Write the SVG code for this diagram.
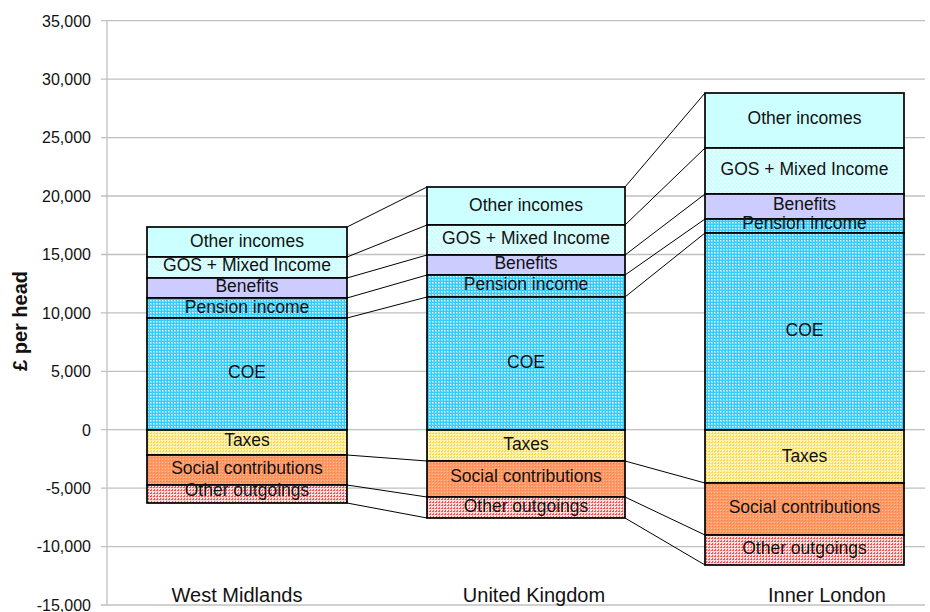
<svg xmlns="http://www.w3.org/2000/svg" width="930" height="612" viewBox="0 0 930 612">
<style>
.grid{stroke:#C0C0C0;stroke-width:1.3;fill:none}
.tick{font-family:"Liberation Sans",Arial,sans-serif;font-size:16px;fill:#111;text-anchor:end}
.cat{font-family:"Liberation Sans",Arial,sans-serif;font-size:20px;fill:#111;text-anchor:middle}
.seg{stroke:#000;stroke-width:1.7}
.lbl{font-family:"Liberation Sans",Arial,sans-serif;font-size:17.5px;fill:#111;text-anchor:middle}
.conn line{stroke:#000;stroke-width:1}
.ttl{font-family:"Liberation Sans",Arial,sans-serif;font-size:20px;font-weight:bold;fill:#111;text-anchor:middle}
</style>
<defs>
<pattern id="pGos" width="4" height="4" patternUnits="userSpaceOnUse">
<rect width="4" height="4" fill="#CCFFFF"/>
<rect x="0" y="0" width="1" height="1" fill="#FFFFFF"/>
<rect x="2" y="2" width="1" height="1" fill="#FFFFFF"/>
<rect x="1" y="1" width="1" height="1" fill="#E6FFFF"/>
</pattern>
<pattern id="pCoe" width="3" height="3" patternUnits="userSpaceOnUse">
<rect width="3" height="3" fill="#33CCFF"/>
<rect x="0" y="0" width="2" height="2" fill="#80DFFF"/>
<rect x="0" y="0" width="1" height="1" fill="#FFFFFF"/>
</pattern>
<pattern id="pTax" width="3" height="3" patternUnits="userSpaceOnUse">
<rect width="3" height="3" fill="#FFF2B0"/>
<rect x="0" y="0" width="2" height="2" fill="#FFD84A"/>
<rect x="0" y="0" width="1" height="1" fill="#FFFFE8"/>
</pattern>
<pattern id="pSoc" width="3" height="3" patternUnits="userSpaceOnUse">
<rect width="3" height="3" fill="#FF9966"/>
<rect x="0" y="0" width="1" height="1" fill="#FFC0A0"/>
<rect x="1" y="1" width="1" height="1" fill="#FF8040"/>
</pattern>
<pattern id="pOut" width="3" height="3" patternUnits="userSpaceOnUse">
<rect width="3" height="3" fill="#FFD8D8"/>
<rect x="0" y="0" width="2" height="2" fill="#FF5050"/>
<rect x="0" y="0" width="1" height="1" fill="#FFFFFF"/>
</pattern>
</defs>
<rect width="930" height="612" fill="#FFFFFF"/>
<g id="axes">
<line class="grid" x1="107" y1="20.7" x2="925" y2="20.7"/>
<line class="grid" x1="107" y1="79.1" x2="925" y2="79.1"/>
<line class="grid" x1="107" y1="137.6" x2="925" y2="137.6"/>
<line class="grid" x1="107" y1="196" x2="925" y2="196"/>
<line class="grid" x1="107" y1="254.5" x2="925" y2="254.5"/>
<line class="grid" x1="107" y1="312.9" x2="925" y2="312.9"/>
<line class="grid" x1="107" y1="371.3" x2="925" y2="371.3"/>
<line class="grid" x1="107" y1="429.7" x2="925" y2="429.7"/>
<line class="grid" x1="107" y1="488.2" x2="925" y2="488.2"/>
<line class="grid" x1="107" y1="546.6" x2="925" y2="546.6"/>
<line class="grid" x1="107" y1="605" x2="925" y2="605"/>
<line class="grid" x1="107" y1="20.7" x2="107" y2="605"/>
<path class="grid" d="M101 20.7H107M101 79.1H107M101 137.6H107M101 196H107M101 254.5H107M101 312.9H107M101 371.3H107M101 429.7H107M101 488.2H107M101 546.6H107M101 605H107"/>
<text class="tick" x="91" y="26.5">35,000</text>
<text class="tick" x="91" y="85">30,000</text>
<text class="tick" x="91" y="143.4">25,000</text>
<text class="tick" x="91" y="201.8">20,000</text>
<text class="tick" x="91" y="260.3">15,000</text>
<text class="tick" x="91" y="318.7">10,000</text>
<text class="tick" x="91" y="377.1">5,000</text>
<text class="tick" x="91" y="435.5">0</text>
<text class="tick" x="91" y="494">-5,000</text>
<text class="tick" x="91" y="552.4">-10,000</text>
<text class="tick" x="91" y="610.8">-15,000</text>
<text class="ttl" transform="translate(27,321) rotate(-90)">£ per head</text>
<text class="cat" x="237" y="602">West Midlands</text>
<text class="cat" x="534" y="602">United Kingdom</text>
<text class="cat" x="827" y="602">Inner London</text>
</g>
<g class="conn" id="connectors">
<line x1="347" y1="227" x2="427" y2="187"/>
<line x1="347" y1="257" x2="427" y2="225"/>
<line x1="347" y1="278" x2="427" y2="255"/>
<line x1="347" y1="298" x2="427" y2="275"/>
<line x1="347" y1="318" x2="427" y2="297"/>
<line x1="347" y1="455" x2="427" y2="461"/>
<line x1="347" y1="485" x2="427" y2="497"/>
<line x1="347" y1="503" x2="427" y2="518"/>
<line x1="625" y1="187" x2="705" y2="93"/>
<line x1="625" y1="225" x2="705" y2="148"/>
<line x1="625" y1="255" x2="705" y2="194"/>
<line x1="625" y1="275" x2="705" y2="219"/>
<line x1="625" y1="297" x2="705" y2="233"/>
<line x1="625" y1="461" x2="705" y2="483"/>
<line x1="625" y1="497" x2="705" y2="535"/>
<line x1="625" y1="518" x2="705" y2="565"/>
</g>
<g id="wm">
<g id="wm-other"><rect class="seg" x="147" y="227" width="200" height="30" fill="#CCFFFF"/><text class="lbl" x="247" y="246.5">Other incomes</text></g>
<g id="wm-gos"><rect class="seg" x="147" y="257" width="200" height="21" fill="url(#pGos)"/><text class="lbl" x="247" y="270.7">GOS + Mixed Income</text></g>
<g id="wm-benefits"><rect class="seg" x="147" y="278" width="200" height="20" fill="#CCCCFF"/><text class="lbl" x="247" y="291.7">Benefits</text></g>
<g id="wm-pension"><rect class="seg" x="147" y="298" width="200" height="20" fill="url(#pCoe)"/><text class="lbl" x="247" y="312.5">Pension income</text></g>
<g id="wm-coe"><rect class="seg" x="147" y="318" width="200" height="112" fill="url(#pCoe)"/><text class="lbl" x="247" y="378">COE</text></g>
<g id="wm-taxes"><rect class="seg" x="147" y="430" width="200" height="25" fill="url(#pTax)"/><text class="lbl" x="247" y="446">Taxes</text></g>
<g id="wm-social"><rect class="seg" x="147" y="455" width="200" height="30" fill="url(#pSoc)"/><text class="lbl" x="247" y="474">Social contributions</text></g>
<g id="wm-outgoings"><rect class="seg" x="147" y="485" width="200" height="18" fill="url(#pOut)"/><text class="lbl" x="247" y="496">Other outgoings</text></g>
</g>
<g id="uk">
<g id="uk-other"><rect class="seg" x="427" y="187" width="198" height="38" fill="#CCFFFF"/><text class="lbl" x="526" y="210.7">Other incomes</text></g>
<g id="uk-gos"><rect class="seg" x="427" y="225" width="198" height="30" fill="url(#pGos)"/><text class="lbl" x="526" y="244">GOS + Mixed Income</text></g>
<g id="uk-benefits"><rect class="seg" x="427" y="255" width="198" height="20" fill="#CCCCFF"/><text class="lbl" x="526" y="268.7">Benefits</text></g>
<g id="uk-pension"><rect class="seg" x="427" y="275" width="198" height="22" fill="url(#pCoe)"/><text class="lbl" x="526" y="290">Pension income</text></g>
<g id="uk-coe"><rect class="seg" x="427" y="297" width="198" height="133" fill="url(#pCoe)"/><text class="lbl" x="526" y="368">COE</text></g>
<g id="uk-taxes"><rect class="seg" x="427" y="430" width="198" height="31" fill="url(#pTax)"/><text class="lbl" x="526" y="450">Taxes</text></g>
<g id="uk-social"><rect class="seg" x="427" y="461" width="198" height="36" fill="url(#pSoc)"/><text class="lbl" x="526" y="482">Social contributions</text></g>
<g id="uk-outgoings"><rect class="seg" x="427" y="497" width="198" height="21" fill="url(#pOut)"/><text class="lbl" x="526" y="511.7">Other outgoings</text></g>
</g>
<g id="il">
<g id="il-other"><rect class="seg" x="705" y="93" width="199" height="55" fill="#CCFFFF"/><text class="lbl" x="804.5" y="124.3">Other incomes</text></g>
<g id="il-gos"><rect class="seg" x="705" y="148" width="199" height="46" fill="url(#pGos)"/><text class="lbl" x="804.5" y="175">GOS + Mixed Income</text></g>
<g id="il-benefits"><rect class="seg" x="705" y="194" width="199" height="25" fill="#CCCCFF"/><text class="lbl" x="804.5" y="210">Benefits</text></g>
<g id="il-pension"><rect class="seg" x="705" y="219" width="199" height="14" fill="url(#pCoe)"/><text class="lbl" x="804.5" y="229">Pension income</text></g>
<g id="il-coe"><rect class="seg" x="705" y="233" width="199" height="197" fill="url(#pCoe)"/><text class="lbl" x="804.5" y="336">COE</text></g>
<g id="il-taxes"><rect class="seg" x="705" y="430" width="199" height="53" fill="url(#pTax)"/><text class="lbl" x="804.5" y="461.7">Taxes</text></g>
<g id="il-social"><rect class="seg" x="705" y="483" width="199" height="52" fill="url(#pSoc)"/><text class="lbl" x="804.5" y="513">Social contributions</text></g>
<g id="il-outgoings"><rect class="seg" x="705" y="535" width="199" height="30" fill="url(#pOut)"/><text class="lbl" x="804.5" y="554">Other outgoings</text></g>
</g>
</svg>
